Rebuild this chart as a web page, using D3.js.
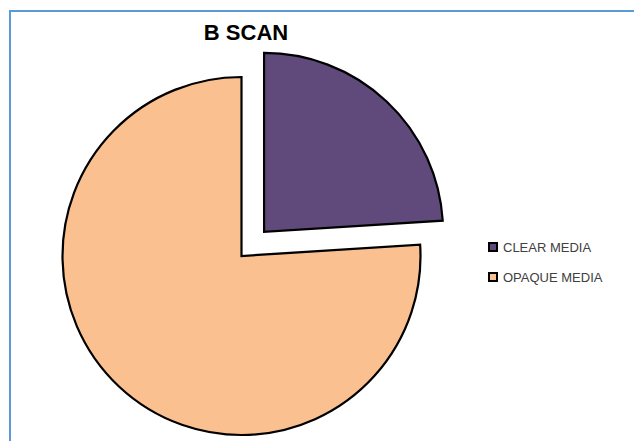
<!DOCTYPE html>
<html>
<head>
<meta charset="utf-8">
<script src="https://cdn.jsdelivr.net/npm/d3@7"></script>
<style>
  body { margin: 0; background: #fff; }
  svg { display: block; }
</style>
</head>
<body>
<svg width="634" height="441"></svg>
<script>
// chart data
const categories = ['CLEAR MEDIA', 'OPAQUE MEDIA'];
const values = [24, 76];
const colors = ['#604a7b', '#fac090'];

const svg = d3.select('svg');

// outer chart frame (runs off the right and bottom of the picture)
svg.append('rect')
  .attr('x', 10).attr('y', 11)
  .attr('width', 640).attr('height', 450)
  .attr('fill', 'none')
  .attr('stroke', '#5b9bd5')
  .attr('stroke-width', 2);

svg.append('text')
  .attr('x', 246).attr('y', 40)
  .attr('text-anchor', 'middle')
  .style('font-family', 'Liberation Sans, Arial, sans-serif')
  .style('font-weight', 'bold')
  .style('font-size', '22px')
  .text('B SCAN');

const cx = 241.5, cy = 256, r = 179;
const explode = 33;

const pie = d3.pie().sort(null).value(d => d);
const arc = d3.arc().innerRadius(0).outerRadius(r);

const g = svg.append('g').attr('transform', `translate(${cx},${cy})`);

g.selectAll('path')
  .data(pie(values))
  .enter()
  .append('path')
  .attr('d', arc)
  .attr('transform', (d, i) => {
    if (i !== 0) return null;
    const a = (d.startAngle + d.endAngle) / 2;
    return `translate(${Math.sin(a) * explode},${-Math.cos(a) * explode})`;
  })
  .attr('fill', (d, i) => colors[i])
  .attr('stroke', '#000')
  .attr('stroke-width', 2.2)
  .attr('stroke-linejoin', 'miter');

const legend = svg.append('g').attr('transform', 'translate(488,247)');
const rows = legend.selectAll('g')
  .data(categories)
  .enter()
  .append('g')
  .attr('transform', (d, i) => `translate(0,${i * 30})`);

rows.append('rect')
  .attr('x', 1).attr('y', -4)
  .attr('width', 8).attr('height', 8)
  .attr('fill', (d, i) => colors[i])
  .attr('stroke', '#000')
  .attr('stroke-width', 2);

rows.append('text')
  .attr('x', 15).attr('y', 5)
  .style('font-family', 'Liberation Sans, Arial, sans-serif')
  .style('font-size', '13px')
  .attr('fill', '#404040')
  .text(d => d);
</script>
</body>
</html>
